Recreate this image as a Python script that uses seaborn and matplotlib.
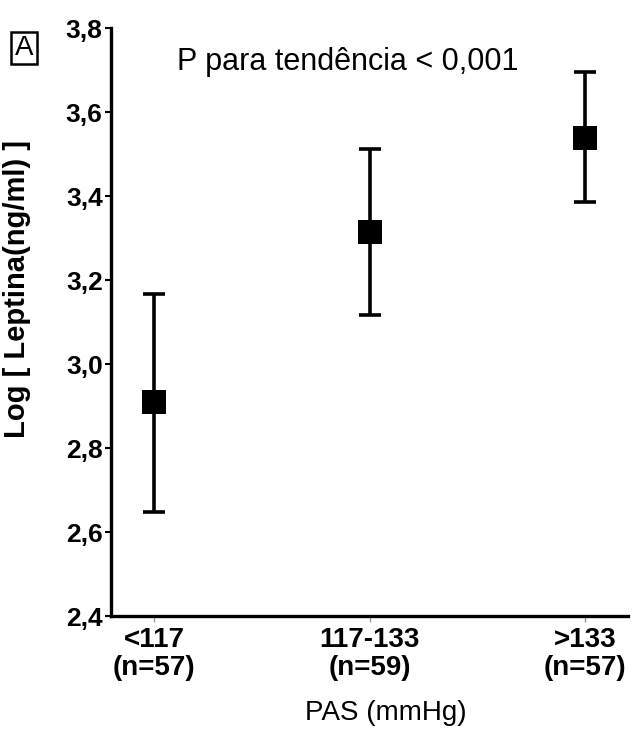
import matplotlib
matplotlib.use("Agg")
import matplotlib.pyplot as plt
import seaborn as sns
import pandas as pd
import numpy as np

# Data
categories = ["<117", "117-133", ">133"]
n_labels = ["(n=57)", "(n=59)", "(n=57)"]
means = [2.91, 3.314, 3.538]
upper = [3.167, 3.512, 3.695]
lower = [2.648, 3.117, 3.386]
ytick_vals = [2.4, 2.6, 2.8, 3.0, 3.2, 3.4, 3.6, 3.8]
ytick_labels = ["2,4", "2,6", "2,8", "3,0", "3,2", "3,4", "3,6", "3,8"]

sns.set_theme(style="white")
plt.rcParams["font.family"] = ["Liberation Sans", "DejaVu Sans"]
plt.rcParams["text.color"] = "black"
plt.rcParams["axes.labelcolor"] = "black"
plt.rcParams["xtick.color"] = "black"
plt.rcParams["ytick.color"] = "black"

df = pd.DataFrame({"grupo": categories, "media": means})

fig = plt.figure(figsize=(6.34, 7.37), dpi=100)
ax = fig.add_axes([0.175, 0.164, 0.816, 0.798])

xpos = np.arange(len(categories))
err_low = np.array(means) - np.array(lower)
err_up = np.array(upper) - np.array(means)
ax.errorbar(xpos, means, yerr=[err_low, err_up], fmt="none", ecolor="black",
            elinewidth=2.6, capsize=8, capthick=2.6, zorder=2)
sns.scatterplot(data=df.assign(x=xpos), x="x", y="media", marker="s", s=290,
                color="black", edgecolor="black", linewidth=0, ax=ax, zorder=3)

ax.set_xlim(-0.2, 2.2)
ax.set_ylim(2.4, 3.8)
ax.set_xticks(xpos)
ax.set_xticklabels([f"{c}\n{n}" for c, n in zip(categories, n_labels)],
                   fontsize=20, fontweight="bold", linespacing=1.1)
ax.set_yticks(ytick_vals)
ax.set_yticklabels(ytick_labels, fontsize=19, fontweight="bold")

for s in ["top", "right"]:
    ax.spines[s].set_visible(False)
for s in ["left", "bottom"]:
    ax.spines[s].set_linewidth(2.4)
    ax.spines[s].set_color("black")

ax.tick_params(axis="y", direction="out", length=4, width=1.5, color="black", pad=2, left=True)
ax.tick_params(axis="x", direction="out", length=4, width=1, color="#999999", pad=4, bottom=True)

ax.set_xlabel("PAS (mmHg)", fontsize=20)
ax.set_ylabel("Log [ Leptina(ng/ml) ]", fontsize=21, fontweight="bold")
ax.xaxis.set_label_coords(0.532, -0.143)
ax.yaxis.set_label_coords(-0.155, 0.556)

ax.text(0.458, 0.942, "P para tendência < 0,001", transform=ax.transAxes,
        ha="center", va="center", fontsize=22)

fig.text(24 / 634, 1 - 48 / 737, "A", ha="center", va="center", fontsize=20,
         bbox=dict(boxstyle="square,pad=0.12", fc="white", ec="black", lw=1.8))

fig.savefig("out.png", dpi=100)
